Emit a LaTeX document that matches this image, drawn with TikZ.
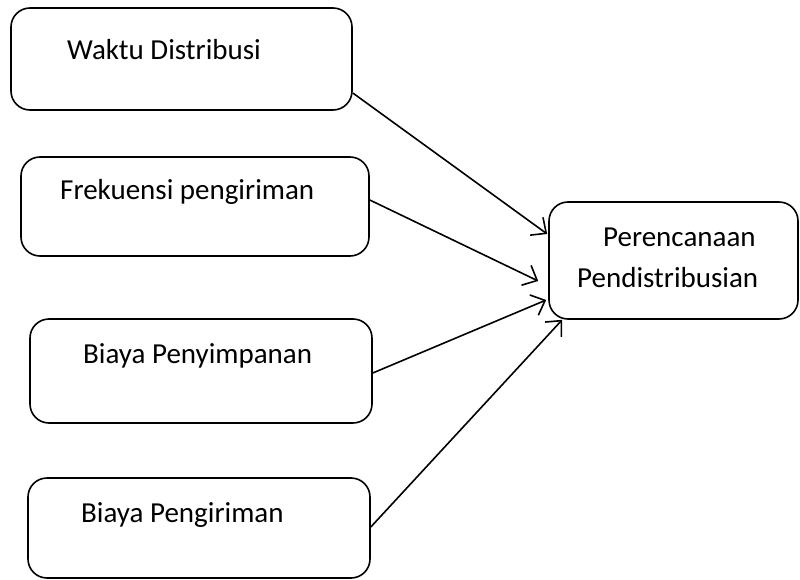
\documentclass[tikz,border=0pt]{standalone}
\usepackage{fontspec}
\setmainfont{Carlito}
\usetikzlibrary{arrows.meta,calc}
\begin{document}
\begin{tikzpicture}[x=1pt,y=-1pt,
  box/.style={draw, line width=1.6pt, rounded corners=19pt, rectangle, inner sep=0pt},
  lbl/.style={anchor=base west, inner sep=0pt, font=\fontsize{29}{35}\selectfont},
  conn/.style={line width=1.6pt, -{Straight Barb[length=12pt,width=22pt,line width=1.6pt]}}]
\useasboundingbox (0,0) rectangle (800,580);
\node[box, minimum width=341pt, minimum height=102pt] (b1) at (181.5,59) {};
\node[box, minimum width=348pt, minimum height=99pt] (b2) at (195,206.5) {};
\node[box, minimum width=342pt, minimum height=104pt] (b3) at (201,371) {};
\node[box, minimum width=342pt, minimum height=100pt] (b4) at (199,528) {};
\node[box, minimum width=249pt, minimum height=117pt] (b5) at (673.5,260.5) {};
\node[lbl] (t1) at (67,60) {Waktu Distribusi};
\node[lbl] (t2) at (60,200) {Frekuensi pengiriman};
\node[lbl] (t3) at (83,363) {Biaya Penyimpanan};
\node[lbl] (t4) at (81,522) {Biaya Pengiriman};
\node[lbl] (t5a) at (603,246) {Perencanaan};
\node[lbl] (t5b) at (577,287) {Pendistribusian};
\draw[conn] ($(b1.east)+(0,34)$) -- ($(b5.west)+(-1,-26.5)$);
\draw[conn] ($(b2.east)+(0,-6.5)$) -- ($(b5.west)+(-10,20.5)$);
\draw[conn] ($(b3.east)+(0,2)$) -- ($(b5.west)+(-2,39.5)$);
\draw[conn] ($(b4.east)+(0,-1)$) -- ($(b5.south west)+(14,0)$);
\end{tikzpicture}
\end{document}
